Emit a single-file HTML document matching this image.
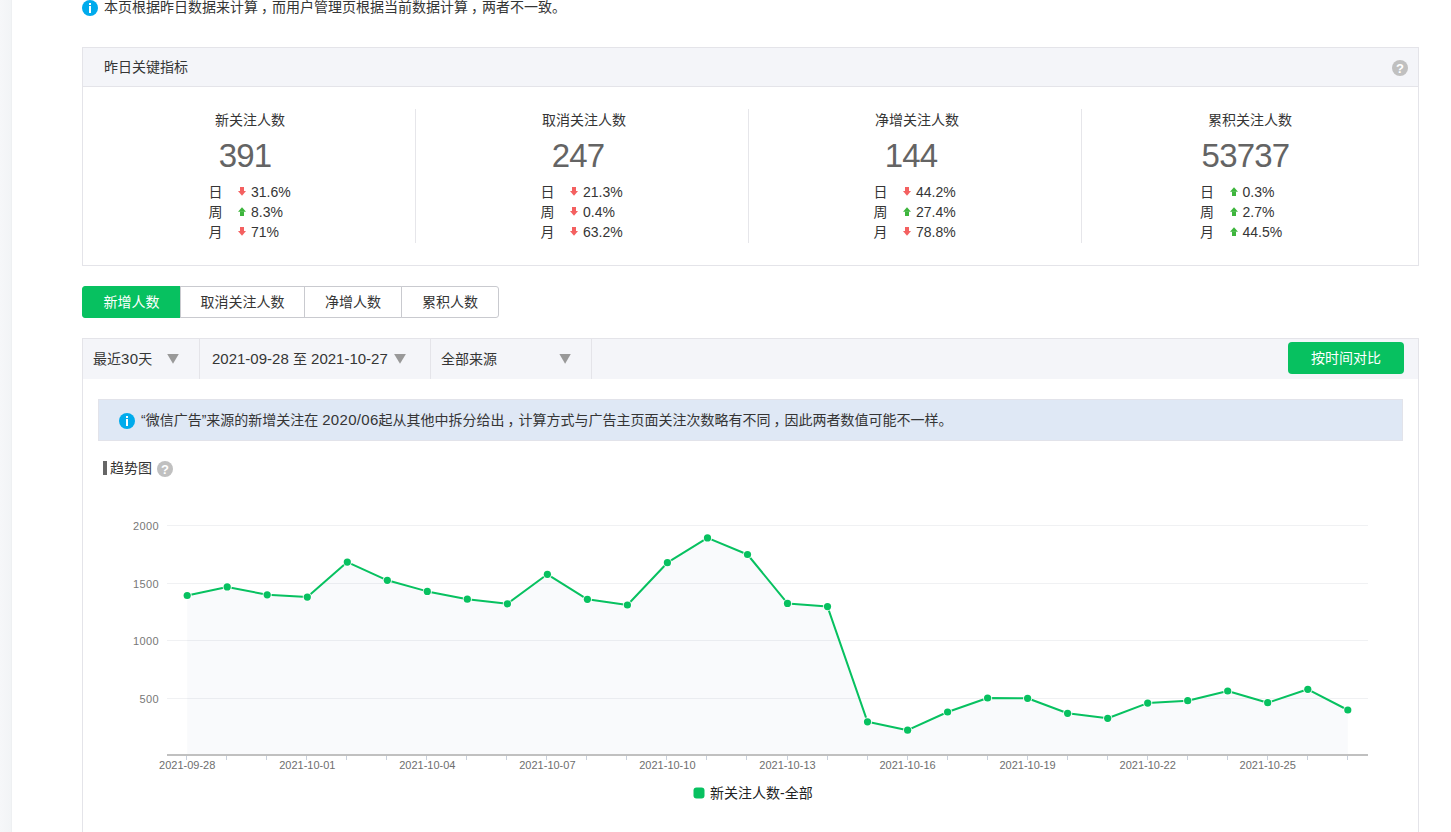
<!DOCTYPE html>
<html lang="zh-CN">
<head>
<meta charset="utf-8">
<title>用户分析</title>
<style>
*{box-sizing:border-box;margin:0;padding:0}
html,body{width:1451px;height:832px;overflow:hidden;background:#fff}
body{position:relative;font-family:"Liberation Sans","Noto Sans CJK SC",sans-serif;font-size:14px;color:#353535}
.abs{position:absolute}
.strip{left:0;top:0;width:12px;height:832px;background:linear-gradient(to right,#f6f7f9,#f2f4f6);border-right:1px solid #eef0f2}
.t{position:absolute;white-space:nowrap;line-height:20px}
.ico{position:absolute;width:16px;height:16px;border-radius:50%}
.ico.info{background:#00abec}
.ico.info:before{content:"";position:absolute;left:7px;top:3px;width:2px;height:2px;background:#fff}
.ico.info:after{content:"";position:absolute;left:7px;top:6px;width:2px;height:7px;background:#fff}
.ico.q{background:#c0c0c0;color:#fff;font:bold 13px/17px "Liberation Sans",sans-serif;text-align:center}
.panel{position:absolute;border:1px solid #e4e4e9;background:#fff}
.phead{position:absolute;left:0;top:0;right:0;height:39px;background:#f4f5f9;border-bottom:1px solid #e4e4e9}
.div{position:absolute;width:1px;background:#e6e6ea}
.lbl{color:#353535}
.num{font-size:33px;letter-spacing:-0.8px;color:#646464;line-height:36px}
.arr{position:absolute;width:8px;height:9px}
.tab{position:absolute;top:286px;height:32px;border:1px solid #c9cacf;background:#fff;text-align:center;line-height:30px;color:#353535}
.tab.on{background:#07c160;border-color:#07c160;color:#fff}
.fbar{position:absolute;left:82px;top:338px;width:1337px;height:41px;background:#f4f5f9;border:1px solid #e4e4e9;border-bottom:none}
.sep{position:absolute;top:339px;width:1px;height:40px;background:#e4e4e9}
.btn{position:absolute;left:1288px;top:342px;width:116px;height:32px;border-radius:4px;background:#07c160;color:#fff;text-align:center;line-height:32px}
.notice{position:absolute;left:98px;top:399px;width:1305px;height:42px;background:#dfe8f5;border:1px solid #e2e3ea}
.w{font-size:15px;letter-spacing:0.3px}
.cm{position:relative;left:3px}
svg text{font-family:"Liberation Sans","Noto Sans CJK SC",sans-serif}
.yl{font-size:11px;fill:#777;letter-spacing:0.4px}
.xl{font-size:11px;fill:#6e6e6e}
</style>
</head>
<body>
<div class="abs strip"></div>

<div class="ico info" style="left:82px;top:0"></div>
<div class="t" style="left:104px;top:-3px">本页根据昨日数据来计算<span class="cm">，</span>而用户管理页根据当前数据计算<span class="cm">，</span>两者不一致。</div>

<div class="panel" style="left:82px;top:47px;width:1337px;height:219px">
  <div class="phead"></div>
</div>
<div class="t" style="left:104px;top:57px">昨日关键指标</div>
<div class="ico q" style="left:1392px;top:60px">?</div>

<div class="div" style="left:415px;top:109px;height:134px"></div>
<div class="div" style="left:748px;top:109px;height:134px"></div>
<div class="div" style="left:1081px;top:109px;height:134px"></div>

<div class="t lbl" style="left:100px;width:300px;text-align:center;top:110px">新关注人数</div>
<div class="t num" style="left:95px;width:300px;text-align:center;top:137.5px">391</div>
<div class="t" style="left:208.5px;top:182px">日</div>
<svg class="arr" style="left:238.0px;top:187px" viewBox="0 0 8 9"><rect x="2" y="0" width="4" height="4.3" fill="#f46060"/><polygon points="0,4 8,4 4,8.8" fill="#f46060"/></svg>
<div class="t rv" style="left:251.0px;top:182px">31.6%</div>
<div class="t" style="left:208.5px;top:202px">周</div>
<svg class="arr" style="left:238.0px;top:207px" viewBox="0 0 8 9"><polygon points="0,4.8 8,4.8 4,0.2" fill="#3db53c"/><rect x="2" y="4.5" width="4" height="4.5" fill="#3db53c"/></svg>
<div class="t rv" style="left:251.0px;top:202px">8.3%</div>
<div class="t" style="left:208.5px;top:222px">月</div>
<svg class="arr" style="left:238.0px;top:227px" viewBox="0 0 8 9"><rect x="2" y="0" width="4" height="4.3" fill="#f46060"/><polygon points="0,4 8,4 4,8.8" fill="#f46060"/></svg>
<div class="t rv" style="left:251.0px;top:222px">71%</div>
<div class="t lbl" style="left:434px;width:300px;text-align:center;top:110px">取消关注人数</div>
<div class="t num" style="left:428px;width:300px;text-align:center;top:137.5px">247</div>
<div class="t" style="left:540.5px;top:182px">日</div>
<svg class="arr" style="left:570.0px;top:187px" viewBox="0 0 8 9"><rect x="2" y="0" width="4" height="4.3" fill="#f46060"/><polygon points="0,4 8,4 4,8.8" fill="#f46060"/></svg>
<div class="t rv" style="left:583.0px;top:182px">21.3%</div>
<div class="t" style="left:540.5px;top:202px">周</div>
<svg class="arr" style="left:570.0px;top:207px" viewBox="0 0 8 9"><rect x="2" y="0" width="4" height="4.3" fill="#f46060"/><polygon points="0,4 8,4 4,8.8" fill="#f46060"/></svg>
<div class="t rv" style="left:583.0px;top:202px">0.4%</div>
<div class="t" style="left:540.5px;top:222px">月</div>
<svg class="arr" style="left:570.0px;top:227px" viewBox="0 0 8 9"><rect x="2" y="0" width="4" height="4.3" fill="#f46060"/><polygon points="0,4 8,4 4,8.8" fill="#f46060"/></svg>
<div class="t rv" style="left:583.0px;top:222px">63.2%</div>
<div class="t lbl" style="left:767px;width:300px;text-align:center;top:110px">净增关注人数</div>
<div class="t num" style="left:761px;width:300px;text-align:center;top:137.5px">144</div>
<div class="t" style="left:873.5px;top:182px">日</div>
<svg class="arr" style="left:903.0px;top:187px" viewBox="0 0 8 9"><rect x="2" y="0" width="4" height="4.3" fill="#f46060"/><polygon points="0,4 8,4 4,8.8" fill="#f46060"/></svg>
<div class="t rv" style="left:916.0px;top:182px">44.2%</div>
<div class="t" style="left:873.5px;top:202px">周</div>
<svg class="arr" style="left:903.0px;top:207px" viewBox="0 0 8 9"><polygon points="0,4.8 8,4.8 4,0.2" fill="#3db53c"/><rect x="2" y="4.5" width="4" height="4.5" fill="#3db53c"/></svg>
<div class="t rv" style="left:916.0px;top:202px">27.4%</div>
<div class="t" style="left:873.5px;top:222px">月</div>
<svg class="arr" style="left:903.0px;top:227px" viewBox="0 0 8 9"><rect x="2" y="0" width="4" height="4.3" fill="#f46060"/><polygon points="0,4 8,4 4,8.8" fill="#f46060"/></svg>
<div class="t rv" style="left:916.0px;top:222px">78.8%</div>
<div class="t lbl" style="left:1100px;width:300px;text-align:center;top:110px">累积关注人数</div>
<div class="t num" style="left:1095.5px;width:300px;text-align:center;top:137.5px">53737</div>
<div class="t" style="left:1200px;top:182px">日</div>
<svg class="arr" style="left:1229.5px;top:187px" viewBox="0 0 8 9"><polygon points="0,4.8 8,4.8 4,0.2" fill="#3db53c"/><rect x="2" y="4.5" width="4" height="4.5" fill="#3db53c"/></svg>
<div class="t rv" style="left:1242.5px;top:182px">0.3%</div>
<div class="t" style="left:1200px;top:202px">周</div>
<svg class="arr" style="left:1229.5px;top:207px" viewBox="0 0 8 9"><polygon points="0,4.8 8,4.8 4,0.2" fill="#3db53c"/><rect x="2" y="4.5" width="4" height="4.5" fill="#3db53c"/></svg>
<div class="t rv" style="left:1242.5px;top:202px">2.7%</div>
<div class="t" style="left:1200px;top:222px">月</div>
<svg class="arr" style="left:1229.5px;top:227px" viewBox="0 0 8 9"><polygon points="0,4.8 8,4.8 4,0.2" fill="#3db53c"/><rect x="2" y="4.5" width="4" height="4.5" fill="#3db53c"/></svg>
<div class="t rv" style="left:1242.5px;top:222px">44.5%</div>

<div class="tab on" style="left:82px;width:99px;border-radius:3px 0 0 3px">新增人数</div>
<div class="tab" style="left:180px;width:125px">取消关注人数</div>
<div class="tab" style="left:304px;width:98px">净增人数</div>
<div class="tab" style="left:401px;width:98px;border-radius:0 3px 3px 0">累积人数</div>

<div class="panel" style="left:82px;top:338px;width:1337px;height:520px;border-top:none"></div>
<div class="fbar"></div>
<div class="sep" style="left:199px"></div>
<div class="sep" style="left:430px"></div>
<div class="sep" style="left:591px"></div>
<div class="t" style="left:93px;top:349px">最近<span class="w">30</span>天</div>
<div class="t" style="left:212px;top:349px;font-size:15px">2021-09-28 <span style="font-size:14px">至</span> 2021-10-27</div>
<div class="t" style="left:441px;top:349px">全部来源</div>
<svg class="abs" style="left:0;top:0" width="1451" height="832">
<polygon points="167.2,354 178.8,354 173,363.7" fill="#999"/>
<polygon points="394.1,354 405.9,354 400,363.7" fill="#999"/>
<polygon points="559.4,354 570.8,354 565.1,363.7" fill="#999"/>
</svg>
<div class="btn">按时间对比</div>

<div class="notice"></div>
<div class="ico info" style="left:119px;top:413px"></div>
<div class="t" style="left:141px;top:410px">“微信广告”来源的新增关注在 <span class="w">2020/06</span>起从其他中拆分给出<span class="cm">，</span>计算方式与广告主页面关注次数略有不同<span class="cm">，</span>因此两者数值可能不一样。</div>

<div class="abs" style="left:103px;top:461px;width:4px;height:14px;background:#666"></div>
<div class="t" style="left:110px;top:458px">趋势图</div>
<div class="ico q" style="left:157px;top:461px">?</div>

<svg class="abs" style="left:0;top:0" width="1451" height="832">
<path d="M187.2,754 L187.2,595.5 L227.2,586.9 L267.2,594.8 L307.3,597.1 L347.3,562.1 L387.3,580.3 L427.3,591.4 L467.3,599.2 L507.4,603.8 L547.4,574.3 L587.4,599.3 L627.4,605.0 L667.4,562.7 L707.5,537.9 L747.5,554.5 L787.5,603.4 L827.5,606.6 L867.5,721.8 L907.6,730.2 L947.6,712.0 L987.6,698.0 L1027.6,698.3 L1067.6,713.3 L1107.7,718.3 L1147.7,703.1 L1187.7,700.7 L1227.7,691.0 L1267.7,702.7 L1307.8,689.3 L1347.8,710.0 L1347.8,754 Z" fill="#f9fafc"/>
<line x1="167" y1="525.5" x2="1368" y2="525.5" stroke="rgb(30,50,80)" stroke-opacity="0.065" stroke-width="1"/>
<line x1="167" y1="583.5" x2="1368" y2="583.5" stroke="rgb(30,50,80)" stroke-opacity="0.065" stroke-width="1"/>
<line x1="167" y1="640.5" x2="1368" y2="640.5" stroke="rgb(30,50,80)" stroke-opacity="0.065" stroke-width="1"/>
<line x1="167" y1="698.5" x2="1368" y2="698.5" stroke="rgb(30,50,80)" stroke-opacity="0.065" stroke-width="1"/>
<line x1="167" y1="755" x2="1368" y2="755" stroke="#c0c0c0" stroke-width="2"/>
<line x1="186.5" y1="756" x2="186.5" y2="760" stroke="#c8d0dc" stroke-width="1"/>
<line x1="226.5" y1="756" x2="226.5" y2="760" stroke="#c8d0dc" stroke-width="1"/>
<line x1="266.5" y1="756" x2="266.5" y2="760" stroke="#c8d0dc" stroke-width="1"/>
<line x1="306.5" y1="756" x2="306.5" y2="760" stroke="#c8d0dc" stroke-width="1"/>
<line x1="346.5" y1="756" x2="346.5" y2="760" stroke="#c8d0dc" stroke-width="1"/>
<line x1="386.5" y1="756" x2="386.5" y2="760" stroke="#c8d0dc" stroke-width="1"/>
<line x1="426.5" y1="756" x2="426.5" y2="760" stroke="#c8d0dc" stroke-width="1"/>
<line x1="466.5" y1="756" x2="466.5" y2="760" stroke="#c8d0dc" stroke-width="1"/>
<line x1="506.5" y1="756" x2="506.5" y2="760" stroke="#c8d0dc" stroke-width="1"/>
<line x1="546.5" y1="756" x2="546.5" y2="760" stroke="#c8d0dc" stroke-width="1"/>
<line x1="586.5" y1="756" x2="586.5" y2="760" stroke="#c8d0dc" stroke-width="1"/>
<line x1="626.5" y1="756" x2="626.5" y2="760" stroke="#c8d0dc" stroke-width="1"/>
<line x1="666.5" y1="756" x2="666.5" y2="760" stroke="#c8d0dc" stroke-width="1"/>
<line x1="706.5" y1="756" x2="706.5" y2="760" stroke="#c8d0dc" stroke-width="1"/>
<line x1="746.5" y1="756" x2="746.5" y2="760" stroke="#c8d0dc" stroke-width="1"/>
<line x1="787.5" y1="756" x2="787.5" y2="760" stroke="#c8d0dc" stroke-width="1"/>
<line x1="827.5" y1="756" x2="827.5" y2="760" stroke="#c8d0dc" stroke-width="1"/>
<line x1="867.5" y1="756" x2="867.5" y2="760" stroke="#c8d0dc" stroke-width="1"/>
<line x1="907.5" y1="756" x2="907.5" y2="760" stroke="#c8d0dc" stroke-width="1"/>
<line x1="947.5" y1="756" x2="947.5" y2="760" stroke="#c8d0dc" stroke-width="1"/>
<line x1="987.5" y1="756" x2="987.5" y2="760" stroke="#c8d0dc" stroke-width="1"/>
<line x1="1027.5" y1="756" x2="1027.5" y2="760" stroke="#c8d0dc" stroke-width="1"/>
<line x1="1067.5" y1="756" x2="1067.5" y2="760" stroke="#c8d0dc" stroke-width="1"/>
<line x1="1107.5" y1="756" x2="1107.5" y2="760" stroke="#c8d0dc" stroke-width="1"/>
<line x1="1147.5" y1="756" x2="1147.5" y2="760" stroke="#c8d0dc" stroke-width="1"/>
<line x1="1187.5" y1="756" x2="1187.5" y2="760" stroke="#c8d0dc" stroke-width="1"/>
<line x1="1227.5" y1="756" x2="1227.5" y2="760" stroke="#c8d0dc" stroke-width="1"/>
<line x1="1267.5" y1="756" x2="1267.5" y2="760" stroke="#c8d0dc" stroke-width="1"/>
<line x1="1307.5" y1="756" x2="1307.5" y2="760" stroke="#c8d0dc" stroke-width="1"/>
<line x1="1347.5" y1="756" x2="1347.5" y2="760" stroke="#c8d0dc" stroke-width="1"/>
<polyline points="187.2,595.5 227.2,586.9 267.2,594.8 307.3,597.1 347.3,562.1 387.3,580.3 427.3,591.4 467.3,599.2 507.4,603.8 547.4,574.3 587.4,599.3 627.4,605.0 667.4,562.7 707.5,537.9 747.5,554.5 787.5,603.4 827.5,606.6 867.5,721.8 907.6,730.2 947.6,712.0 987.6,698.0 1027.6,698.3 1067.6,713.3 1107.7,718.3 1147.7,703.1 1187.7,700.7 1227.7,691.0 1267.7,702.7 1307.8,689.3 1347.8,710.0" fill="none" stroke="#07c160" stroke-width="2" stroke-linejoin="round"/>
<circle cx="187.2" cy="595.5" r="4.6" fill="#fff" fill-opacity="0.85"/>
<circle cx="187.2" cy="595.5" r="3.6" fill="#07c160"/>
<circle cx="227.2" cy="586.9" r="4.6" fill="#fff" fill-opacity="0.85"/>
<circle cx="227.2" cy="586.9" r="3.6" fill="#07c160"/>
<circle cx="267.2" cy="594.8" r="4.6" fill="#fff" fill-opacity="0.85"/>
<circle cx="267.2" cy="594.8" r="3.6" fill="#07c160"/>
<circle cx="307.3" cy="597.1" r="4.6" fill="#fff" fill-opacity="0.85"/>
<circle cx="307.3" cy="597.1" r="3.6" fill="#07c160"/>
<circle cx="347.3" cy="562.1" r="4.6" fill="#fff" fill-opacity="0.85"/>
<circle cx="347.3" cy="562.1" r="3.6" fill="#07c160"/>
<circle cx="387.3" cy="580.3" r="4.6" fill="#fff" fill-opacity="0.85"/>
<circle cx="387.3" cy="580.3" r="3.6" fill="#07c160"/>
<circle cx="427.3" cy="591.4" r="4.6" fill="#fff" fill-opacity="0.85"/>
<circle cx="427.3" cy="591.4" r="3.6" fill="#07c160"/>
<circle cx="467.3" cy="599.2" r="4.6" fill="#fff" fill-opacity="0.85"/>
<circle cx="467.3" cy="599.2" r="3.6" fill="#07c160"/>
<circle cx="507.4" cy="603.8" r="4.6" fill="#fff" fill-opacity="0.85"/>
<circle cx="507.4" cy="603.8" r="3.6" fill="#07c160"/>
<circle cx="547.4" cy="574.3" r="4.6" fill="#fff" fill-opacity="0.85"/>
<circle cx="547.4" cy="574.3" r="3.6" fill="#07c160"/>
<circle cx="587.4" cy="599.3" r="4.6" fill="#fff" fill-opacity="0.85"/>
<circle cx="587.4" cy="599.3" r="3.6" fill="#07c160"/>
<circle cx="627.4" cy="605.0" r="4.6" fill="#fff" fill-opacity="0.85"/>
<circle cx="627.4" cy="605.0" r="3.6" fill="#07c160"/>
<circle cx="667.4" cy="562.7" r="4.6" fill="#fff" fill-opacity="0.85"/>
<circle cx="667.4" cy="562.7" r="3.6" fill="#07c160"/>
<circle cx="707.5" cy="537.9" r="4.6" fill="#fff" fill-opacity="0.85"/>
<circle cx="707.5" cy="537.9" r="3.6" fill="#07c160"/>
<circle cx="747.5" cy="554.5" r="4.6" fill="#fff" fill-opacity="0.85"/>
<circle cx="747.5" cy="554.5" r="3.6" fill="#07c160"/>
<circle cx="787.5" cy="603.4" r="4.6" fill="#fff" fill-opacity="0.85"/>
<circle cx="787.5" cy="603.4" r="3.6" fill="#07c160"/>
<circle cx="827.5" cy="606.6" r="4.6" fill="#fff" fill-opacity="0.85"/>
<circle cx="827.5" cy="606.6" r="3.6" fill="#07c160"/>
<circle cx="867.5" cy="721.8" r="4.6" fill="#fff" fill-opacity="0.85"/>
<circle cx="867.5" cy="721.8" r="3.6" fill="#07c160"/>
<circle cx="907.6" cy="730.2" r="4.6" fill="#fff" fill-opacity="0.85"/>
<circle cx="907.6" cy="730.2" r="3.6" fill="#07c160"/>
<circle cx="947.6" cy="712.0" r="4.6" fill="#fff" fill-opacity="0.85"/>
<circle cx="947.6" cy="712.0" r="3.6" fill="#07c160"/>
<circle cx="987.6" cy="698.0" r="4.6" fill="#fff" fill-opacity="0.85"/>
<circle cx="987.6" cy="698.0" r="3.6" fill="#07c160"/>
<circle cx="1027.6" cy="698.3" r="4.6" fill="#fff" fill-opacity="0.85"/>
<circle cx="1027.6" cy="698.3" r="3.6" fill="#07c160"/>
<circle cx="1067.6" cy="713.3" r="4.6" fill="#fff" fill-opacity="0.85"/>
<circle cx="1067.6" cy="713.3" r="3.6" fill="#07c160"/>
<circle cx="1107.7" cy="718.3" r="4.6" fill="#fff" fill-opacity="0.85"/>
<circle cx="1107.7" cy="718.3" r="3.6" fill="#07c160"/>
<circle cx="1147.7" cy="703.1" r="4.6" fill="#fff" fill-opacity="0.85"/>
<circle cx="1147.7" cy="703.1" r="3.6" fill="#07c160"/>
<circle cx="1187.7" cy="700.7" r="4.6" fill="#fff" fill-opacity="0.85"/>
<circle cx="1187.7" cy="700.7" r="3.6" fill="#07c160"/>
<circle cx="1227.7" cy="691.0" r="4.6" fill="#fff" fill-opacity="0.85"/>
<circle cx="1227.7" cy="691.0" r="3.6" fill="#07c160"/>
<circle cx="1267.7" cy="702.7" r="4.6" fill="#fff" fill-opacity="0.85"/>
<circle cx="1267.7" cy="702.7" r="3.6" fill="#07c160"/>
<circle cx="1307.8" cy="689.3" r="4.6" fill="#fff" fill-opacity="0.85"/>
<circle cx="1307.8" cy="689.3" r="3.6" fill="#07c160"/>
<circle cx="1347.8" cy="710.0" r="4.6" fill="#fff" fill-opacity="0.85"/>
<circle cx="1347.8" cy="710.0" r="3.6" fill="#07c160"/>
<text x="159" y="529.5" text-anchor="end" class="yl">2000</text>
<text x="159" y="587.5" text-anchor="end" class="yl">1500</text>
<text x="159" y="644.5" text-anchor="end" class="yl">1000</text>
<text x="159" y="702.5" text-anchor="end" class="yl">500</text>
<text x="187.2" y="769" text-anchor="middle" class="xl">2021-09-28</text>
<text x="307.3" y="769" text-anchor="middle" class="xl">2021-10-01</text>
<text x="427.3" y="769" text-anchor="middle" class="xl">2021-10-04</text>
<text x="547.4" y="769" text-anchor="middle" class="xl">2021-10-07</text>
<text x="667.4" y="769" text-anchor="middle" class="xl">2021-10-10</text>
<text x="787.5" y="769" text-anchor="middle" class="xl">2021-10-13</text>
<text x="907.6" y="769" text-anchor="middle" class="xl">2021-10-16</text>
<text x="1027.6" y="769" text-anchor="middle" class="xl">2021-10-19</text>
<text x="1147.7" y="769" text-anchor="middle" class="xl">2021-10-22</text>
<text x="1267.7" y="769" text-anchor="middle" class="xl">2021-10-25</text>
<rect x="693.5" y="787.5" width="11" height="11" rx="3" fill="#07c160"/>
</svg>
<div class="t" style="left:710px;top:783px;color:#222">新关注人数-全部</div>
</body>
</html>
